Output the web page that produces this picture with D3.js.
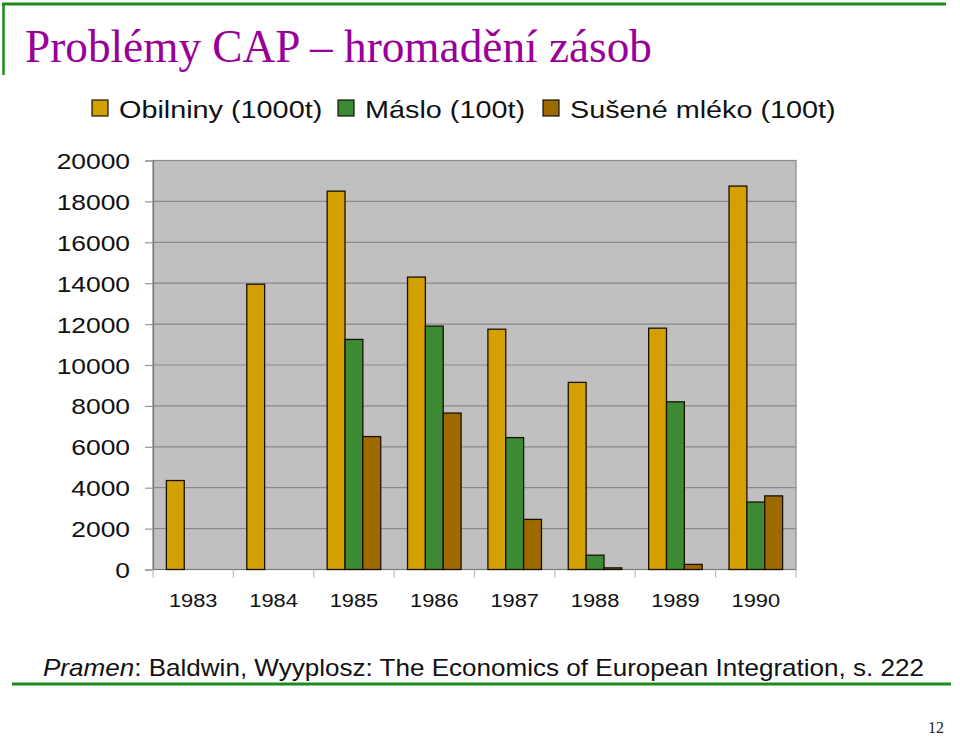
<!DOCTYPE html>
<html>
<head>
<meta charset="utf-8">
<script src="https://cdn.jsdelivr.net/npm/d3@7"></script>
<style>
  body { margin: 0; background: #fff; }
  svg { display: block; }
</style>
</head>
<body>
<svg id="chart" width="960" height="737"></svg>
<script>
// data
const years = ["1983", "1984", "1985", "1986", "1987", "1988", "1989", "1990"];
const seriesNames = ["Obilniny (1000t)", "Máslo (100t)", "Sušené mléko (100t)"];
const obilniny = [4350, 13950, 18500, 14300, 11750, 9150, 11800, 18750];
const maslo = [null, null, 11250, 11900, 6450, 700, 8200, 3300];
const mleko = [null, null, 6500, 7650, 2450, 80, 250, 3600];
const yTicks = [0, 2000, 4000, 6000, 8000, 10000, 12000, 14000, 16000, 18000, 20000];
const colors = ["#D4A000", "#3C8A34", "#9E6A00"];

const svg = d3.select("#chart");
const green = "#1E8A1E";
const sx = 1.2; // the slide text is a bit wide

// slide frame
svg.append("line").attr("x1", 2).attr("x2", 946).attr("y1", 4).attr("y2", 4)
  .attr("stroke", green).attr("stroke-width", 3);
svg.append("line").attr("x1", 3.5).attr("x2", 3.5).attr("y1", 3).attr("y2", 75)
  .attr("stroke", green).attr("stroke-width", 2.5);
svg.append("line").attr("x1", 12).attr("x2", 951).attr("y1", 684).attr("y2", 684)
  .attr("stroke", green).attr("stroke-width", 3);

svg.append("text")
  .attr("x", 25).attr("y", 62)
  .attr("font-family", "'Liberation Serif', serif")
  .attr("font-size", 46)
  .attr("fill", "#990099")
  .attr("textLength", 627)
  .attr("lengthAdjust", "spacingAndGlyphs")
  .text("Problémy CAP – hromadění zásob");

const margin = { left: 153, right: 796, top: 160.5, bottom: 569.5 };

const y = d3.scaleLinear().domain([0, 20000]).range([margin.bottom, margin.top]);
const x0 = d3.scaleBand().domain(years).range([margin.left, margin.right]).padding(0);
const bw = x0.bandwidth();
const x1 = d3.scaleBand().domain(seriesNames).range([bw * 0.1667, bw * 0.8333]).padding(0);

// plot area
svg.append("rect")
  .attr("x", margin.left).attr("y", margin.top)
  .attr("width", margin.right - margin.left).attr("height", margin.bottom - margin.top)
  .attr("fill", "#C0C0C0")
  .attr("stroke", "#8a8a8a").attr("stroke-width", 1.2);

// gridlines
svg.append("g").selectAll("line")
  .data(yTicks.slice(1))
  .join("line")
  .attr("x1", margin.left).attr("x2", margin.right)
  .attr("y1", d => y(d)).attr("y2", d => y(d))
  .attr("stroke", "#8a8a8a").attr("stroke-width", 1.2);

// y axis
const yAxis = svg.append("g")
  .attr("transform", `translate(${margin.left},0)`)
  .call(d3.axisLeft(y).tickValues(yTicks).tickSize(8).tickPadding(0).tickFormat(d3.format("d")));
yAxis.select(".domain").attr("stroke", "#777").attr("stroke-width", 1.2);
yAxis.selectAll(".tick line").attr("stroke", "#999").attr("stroke-width", 1.2);
yAxis.selectAll(".tick text")
  .attr("x", null).attr("dy", null)
  .attr("transform", `translate(-23,8) scale(${sx},1)`)
  .attr("font-family", "Arial, 'Liberation Sans', sans-serif")
  .attr("font-size", 22)
  .attr("fill", "#111");

// x axis: ticks sit on the category boundaries
const xAxis = svg.append("g").attr("transform", `translate(0,${margin.bottom})`);
xAxis.append("line").attr("x1", margin.left).attr("x2", margin.right)
  .attr("stroke", "#777").attr("stroke-width", 1.2);
xAxis.selectAll("line.tk")
  .data(years.concat(["end"]))
  .join("line").attr("class", "tk")
  .attr("x1", (d, i) => margin.left + i * bw).attr("x2", (d, i) => margin.left + i * bw)
  .attr("y1", 0).attr("y2", 8)
  .attr("stroke", "#bbb").attr("stroke-width", 1.2);
xAxis.selectAll("text")
  .data(years)
  .join("text")
  .attr("transform", d => `translate(${x0(d) + bw / 2},37) scale(1.15,1)`)
  .attr("text-anchor", "middle")
  .attr("font-family", "Arial, 'Liberation Sans', sans-serif")
  .attr("font-size", 19)
  .attr("fill", "#111")
  .text(d => d);

// bars
const series = [obilniny, maslo, mleko];
const bars = [];
years.forEach((yr, i) => {
  series.forEach((s, k) => {
    if (s[i] != null) bars.push({ year: yr, name: seriesNames[k], value: s[i], color: colors[k] });
  });
});
svg.append("g").selectAll("rect")
  .data(bars)
  .join("rect")
  .attr("x", d => x0(d.year) + x1(d.name))
  .attr("y", d => y(d.value))
  .attr("width", x1.bandwidth())
  .attr("height", d => y(0) - y(d.value))
  .attr("fill", d => d.color)
  .attr("stroke", "#1a1000").attr("stroke-width", 1.3);

// legend
const legendX = [92, 338, 543];
const legend = svg.append("g");
seriesNames.forEach((n, k) => {
  legend.append("rect")
    .attr("x", legendX[k]).attr("y", 100).attr("width", 16).attr("height", 16)
    .attr("fill", colors[k]).attr("stroke", "#111").attr("stroke-width", 1.2);
  legend.append("text")
    .attr("transform", `translate(${legendX[k] + 27},118) scale(${sx},1)`)
    .attr("font-family", "Arial, 'Liberation Sans', sans-serif")
    .attr("font-size", 24)
    .attr("fill", "#111")
    .text(n);
});

// source line
const src = svg.append("text")
  .attr("x", 43).attr("y", 676)
  .attr("font-family", "Arial, 'Liberation Sans', sans-serif")
  .attr("font-size", 24)
  .attr("fill", "#111")
  .attr("textLength", 881)
  .attr("lengthAdjust", "spacingAndGlyphs");
src.append("tspan").attr("font-style", "italic").text("Pramen");
src.append("tspan").text(": Baldwin, Wyyplosz: The Economics of European Integration, s. 222");

svg.append("text")
  .attr("x", 944).attr("y", 733)
  .attr("text-anchor", "end")
  .attr("font-family", "'Liberation Serif', serif")
  .attr("font-size", 16)
  .attr("fill", "#222")
  .text("12");
</script>
</body>
</html>
